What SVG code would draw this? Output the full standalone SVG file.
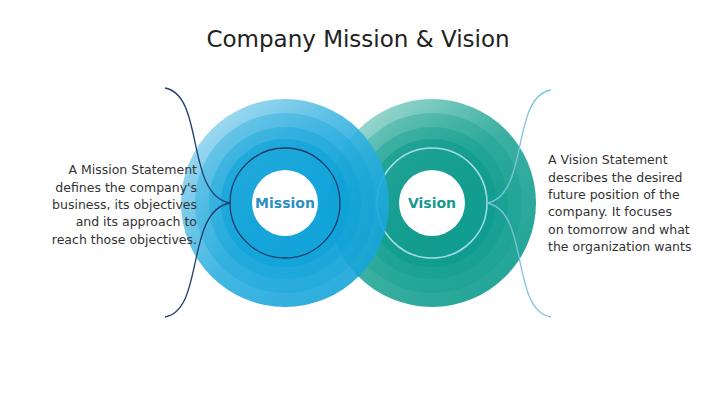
<svg xmlns="http://www.w3.org/2000/svg" width="720" height="405" viewBox="0 0 720 405">
<style>
.t{font-family:"DejaVu Sans","Liberation Sans",sans-serif;font-size:12.5px;fill:#333}
.lbl{font-family:"DejaVu Sans",sans-serif;font-size:14px;font-weight:bold;text-anchor:middle}
.br{fill:none;stroke-width:1.3}
</style>
<defs>
<linearGradient id="gm" x1="0" y1="0" x2="1" y2="1"><stop offset="0" stop-color="#b7e2f3"/><stop offset="0.5" stop-color="#2fb0e0"/><stop offset="1" stop-color="#0a9fd6"/></linearGradient>
<linearGradient id="gv" x1="0" y1="0" x2="1" y2="1"><stop offset="0" stop-color="#b5e2db"/><stop offset="0.5" stop-color="#2aa99a"/><stop offset="1" stop-color="#07998a"/></linearGradient>
</defs>
<rect width="720" height="405" fill="#fff"/>
<text x="358" y="47" text-anchor="middle" font-family="DejaVu Sans,sans-serif" font-size="23" fill="#222">Company Mission &amp; Vision</text>
<g id="vision">
<circle cx="432" cy="203" r="104" fill="url(#gv)" opacity="0.92"/>
<circle cx="432" cy="203" r="90" fill="#0a9a8b" opacity="0.3"/>
<circle cx="432" cy="203" r="76" fill="#0a9a8b" opacity="0.35"/>
<circle cx="432" cy="203" r="64" fill="#089889" opacity="0.5"/>
<circle cx="432" cy="203" r="55" fill="none" stroke="#a6dcea" stroke-width="1.5"/>
<circle cx="432" cy="203" r="33" fill="#fff"/>
<text class="lbl" x="432" y="208" fill="#16998b">Vision</text>
</g>
<g id="mission">
<circle cx="285" cy="203" r="104" fill="url(#gm)" opacity="0.9"/>
<circle cx="285" cy="203" r="90" fill="#0aa0d8" opacity="0.3"/>
<circle cx="285" cy="203" r="76" fill="#0aa0d8" opacity="0.35"/>
<circle cx="285" cy="203" r="64" fill="#08a0d8" opacity="0.5"/>
<circle cx="285" cy="203" r="55" fill="none" stroke="#1a3a6a" stroke-width="1.3"/>
<circle cx="285" cy="203" r="33" fill="#fff"/>
<text class="lbl" x="285" y="208" fill="#2a8fc3">Mission</text>
</g>
<g id="connectors">
<path class="br" stroke="#1f3d6e" d="M165,88 C205,95 185,195 230,203 C185,211 205,310 165,317"/>
<path class="br" stroke="#7cc3dc" d="M551,90 C510,97 530,195 487,203 C530,211 510,310 551,317"/>
</g>
<g id="mission-text" class="t" text-anchor="end">
<text x="197" y="174">A Mission Statement</text>
<text x="197" y="192">defines the company's</text>
<text x="197" y="209">business, its objectives</text>
<text x="197" y="226">and its approach to</text>
<text x="197" y="244">reach those objectives.</text>
</g>
<g id="vision-text" class="t">
<text x="548" y="164">A Vision Statement</text>
<text x="548" y="182">describes the desired</text>
<text x="548" y="199">future position of the</text>
<text x="548" y="216">company. It focuses</text>
<text x="548" y="234">on tomorrow and what</text>
<text x="548" y="251">the organization wants</text>
</g>
</svg>
